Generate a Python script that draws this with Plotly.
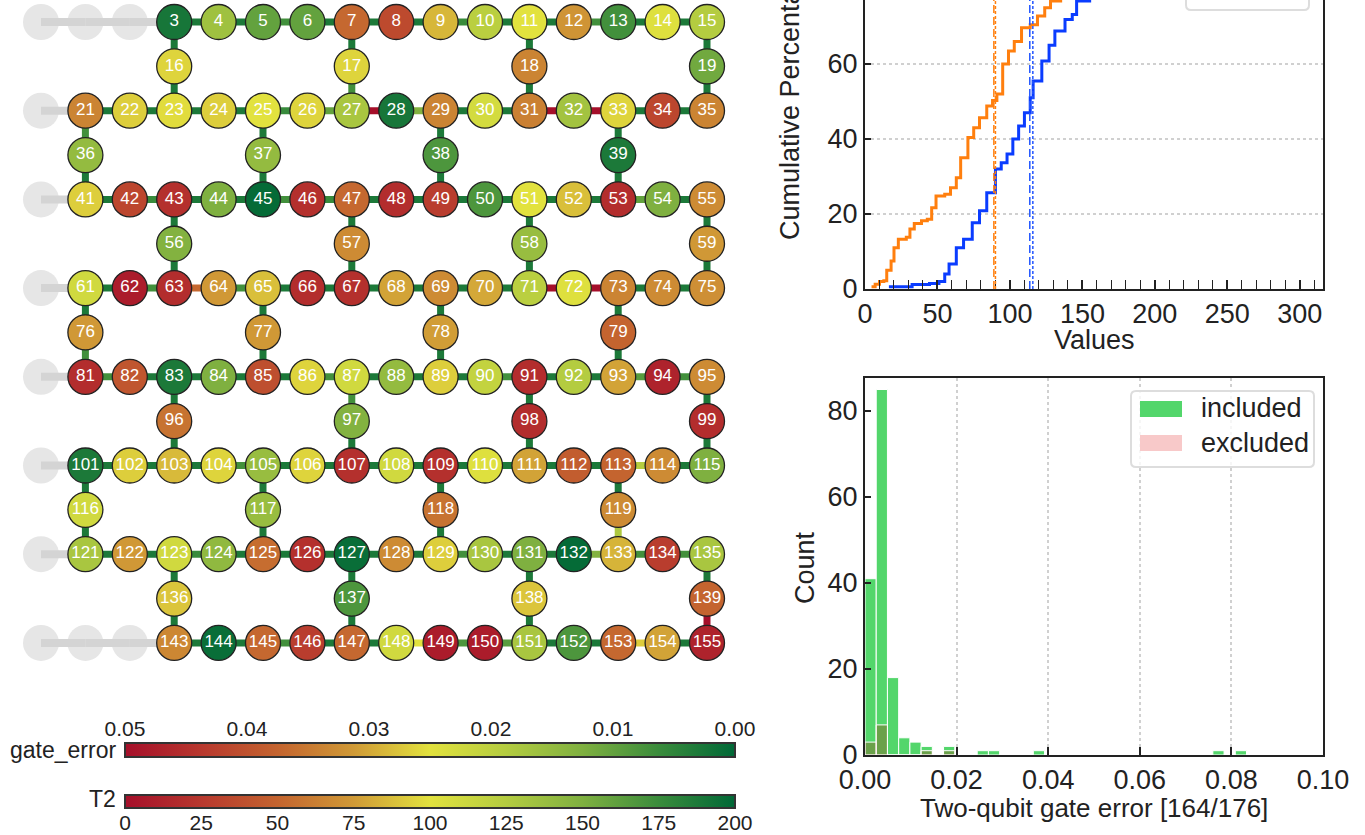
import plotly.graph_objects as go
from plotly.colors import sample_colorscale

W, H = 1365, 835
FONT = "Liberation Sans, Arial, sans-serif"

# ---------------- data ----------------
EXCLUDED = [0, 1, 2, 20, 40, 60, 80, 100, 120, 140, 141, 142]
# T2 per qubit (us), block by block (16 row qubits + 4 bridge qubits)
T2_BLOCK0 = [None, None, None, 190, 135, 160, 160, 52, 35, 85, 122, 100, 72, 172, 102, 125, 95, 95, 65, 155]
T2_BLOCK1 = [None, 65, 93, 98, 93, 100, 95, 130, 190, 65, 108, 63, 133, 95, 33, 65, 140, 140, 168, 188]
T2_BLOCK2 = [None, 93, 33, 20, 150, 198, 20, 52, 18, 28, 168, 100, 88, 18, 150, 68, 148, 68, 138, 74]
T2_BLOCK3 = [None, 110, 8, 18, 74, 88, 18, 20, 78, 68, 80, 122, 102, 65, 68, 70, 74, 74, 76, 50]
T2_BLOCK4 = [None, 18, 42, 188, 150, 38, 95, 110, 140, 93, 117, 18, 125, 78, 12, 68, 57, 148, 18, 18]
T2_BLOCK5 = [None, 188, 93, 86, 95, 138, 95, 20, 110, 20, 102, 78, 46, 50, 68, 150, 110, 138, 57, 68]
T2_BLOCK6 = [None, 130, 74, 110, 142, 54, 20, 196, 68, 93, 130, 150, 198, 84, 28, 130, 90, 168, 90, 50]
T2_BLOCK7 = [None, None, None, 66, 196, 52, 28, 52, 110, 8, 8, 130, 168, 52, 78, 12]
T2 = T2_BLOCK0 + T2_BLOCK1 + T2_BLOCK2 + T2_BLOCK3 + T2_BLOCK4 + T2_BLOCK5 + T2_BLOCK6 + T2_BLOCK7

# two-qubit gate errors: typical value plus the edges that differ
DEFAULT_ERR = 0.003
EDGE_ERR = {
    (5, 6): 0.007, (9, 10): 0.006, (12, 13): 0.007, (17, 27): 0.007,
    (25, 26): 0.006, (26, 27): 0.010, (27, 28): 0.080, (28, 29): 0.013,
    (31, 32): 0.120, (32, 33): 0.150, (21, 36): 0.007,
    (42, 43): 0.006, (45, 46): 0.007, (46, 47): 0.006, (53, 54): 0.010,
    (62, 63): 0.007, (63, 64): 0.037, (64, 65): 0.007, (71, 72): 0.200, (72, 73): 0.081,
    (76, 81): 0.007, (81, 82): 0.007, (86, 87): 0.007, (90, 91): 0.007,
    (93, 94): 0.009, (94, 95): 0.007, (87, 97): 0.007,
    (104, 105): 0.007, (113, 114): 0.019, (119, 133): 0.018,
    (123, 124): 0.006, (129, 130): 0.007, (132, 133): 0.013, (133, 134): 0.007,
    (134, 135): 0.007, (139, 155): 0.300,
    (145, 146): 0.007, (148, 149): 0.025, (149, 150): 0.008, (150, 151): 0.009,
    (153, 154): 0.027,
}

# cumulative distributions (values, cumulative %)
CDF_ORANGE_X = [4.5, 7, 10, 13, 15, 18, 20, 23, 28.5, 31, 34, 39, 43, 46, 49, 55, 59, 63, 66, 71, 75,
                79, 84, 88, 91, 95, 99, 103, 108, 114, 119, 124, 128, 135, 145, 160, 185, 230]
CDF_ORANGE_Y = [0.6, 1.3, 2, 2.2, 5, 7.5, 11, 13.3, 13.8, 16, 17.5, 18.2, 18.6, 21.7, 24.8, 25.3, 27,
                29.7, 35, 40.4, 43, 45.7, 48.8, 50.3, 52, 60, 63.5, 66, 69.7, 70.5, 72.8, 75, 76.8,
                82, 88, 93, 97, 100]
CDF_BLUE_X = [16.5, 32.5, 44.5, 51, 55, 58, 63, 68, 74, 79, 84, 90, 94, 98, 102, 106, 110, 114, 116,
              122, 127, 131, 138, 143, 146, 155, 170, 190, 240]
CDF_BLUE_Y = [0.6, 1.2, 1.5, 2, 4, 6.7, 11, 13.3, 17.7, 20.9, 25.7, 32, 33.7, 36, 40, 43.5, 47, 51,
              55.5, 60.8, 65, 68.8, 71.9, 73.2, 76.8, 84, 91, 96, 100]
ORANGE_MEAN, ORANGE_MEDIAN = 88.9, 90.0
BLUE_MEAN, BLUE_MEDIAN = 113.7, 115.8

# histogram of two-qubit gate error
HIST_BIN_W = 0.00245
HIST_INCLUDED = [41, 85, 18, 4, 3, 2, 0, 2, 0, 0, 1, 1, 0, 0, 0, 1, 0, 0, 0, 0,
                 0, 0, 0, 0, 0, 0, 0, 0, 0, 0, 0, 1, 0, 1]
HIST_EXCLUDED = [3, 7, 0, 0, 0, 1, 0, 1]

T2_TICKS = [0, 25, 50, 75, 100, 125, 150, 175, 200]
ERR_TICKS = [0.05, 0.04, 0.03, 0.02, 0.01, 0.00]
ERR_MAX = 0.05

# ---------------- styling ----------------
CS = [[0.0, '#a50f2a'], [0.125, '#b8382e'], [0.25, '#c4642f'], [0.375, '#d09a36'],
      [0.5, '#e2e23e'], [0.625, '#b4cc40'], [0.75, '#7fb040'], [0.875, '#3a8c3c'], [1.0, '#006837']]


def PX(x):
    return x / W


def PY(y):
    return 1 - y / H


# ---------------- heavy-hex geometry ----------------
def qpos(q):
    r, k = divmod(q, 20)
    if k < 16:
        return k, -2 * r
    cols = [3, 7, 11, 15] if r % 2 == 0 else [1, 5, 9, 13]
    return cols[k - 16], -(2 * r + 1)


edges = []
for r in range(8):
    for c in range(15):
        edges.append((20 * r + c, 20 * r + c + 1))
for r in range(7):
    cols = [3, 7, 11, 15] if r % 2 == 0 else [1, 5, 9, 13]
    for k, c in enumerate(cols):
        b = 20 * r + 16 + k
        edges.append((20 * r + c, b))
        edges.append((b, 20 * (r + 1) + c))

fig = go.Figure()

# excluded nodes
ex = [qpos(q) for q in EXCLUDED]
fig.add_trace(go.Scatter(x=[p[0] for p in ex], y=[p[1] for p in ex], mode='markers',
                         marker=dict(size=36, color='#e6e6e6', line=dict(width=0)),
                         hoverinfo='skip', xaxis='x', yaxis='y'))

mid_x, mid_y, mid_q = [], [], []
for a, b in edges:
    (x1, y1), (x2, y2) = qpos(a), qpos(b)
    if a in EXCLUDED or b in EXCLUDED:
        color, width = '#d4d4d4', 8
    else:
        e = EDGE_ERR.get((a, b), DEFAULT_ERR)
        quality = (ERR_MAX - min(e, ERR_MAX)) / ERR_MAX
        color = sample_colorscale(CS, [quality])[0]
        width = 7
        mid_x.append((x1 + x2) / 2)
        mid_y.append((y1 + y2) / 2)
        mid_q.append(ERR_MAX - min(e, ERR_MAX))
    fig.add_trace(go.Scatter(x=[x1, x2], y=[y1, y2], mode='lines',
                             line=dict(color=color, width=width),
                             hoverinfo='skip', xaxis='x', yaxis='y'))

CB_COMMON = dict(orientation='h', x=PX(430), xanchor='center', yanchor='top',
                 len=610, lenmode='pixels', thicknessmode='pixels', showticklabels=False,
                 xpad=0, ypad=0, outlinecolor='#333', outlinewidth=2, ticks='')

# gate error colorbar host (invisible markers at edge midpoints); labels come from axis x4
fig.add_trace(go.Scatter(
    x=mid_x, y=mid_y, mode='markers', hoverinfo='skip', xaxis='x', yaxis='y',
    marker=dict(size=0, opacity=0, color=mid_q, colorscale=CS, cmin=0, cmax=ERR_MAX,
                showscale=True, colorbar=dict(y=PY(743), thickness=14, **CB_COMMON))))

# qubit nodes; T2 colorbar labels come from axis x5
act = [q for q in range(len(T2)) if T2[q] is not None]
fig.add_trace(go.Scatter(
    x=[qpos(q)[0] for q in act], y=[qpos(q)[1] for q in act], mode='markers+text',
    text=[str(q) for q in act], textposition='middle center',
    textfont=dict(color='white', size=17, family=FONT),
    hoverinfo='skip', xaxis='x', yaxis='y',
    marker=dict(size=35, color=[T2[q] for q in act], colorscale=CS, cmin=0, cmax=200,
                line=dict(color='#222', width=1.3), showscale=True,
                colorbar=dict(y=PY(795), thickness=13, **CB_COMMON))))

# invisible traces that carry the colorbar tick axes
fig.add_trace(go.Scatter(x=[ERR_TICKS[0], ERR_TICKS[-1]], y=[0, 0], mode='markers',
                         marker=dict(size=0, opacity=0), hoverinfo='skip', xaxis='x4', yaxis='y4'))
fig.add_trace(go.Scatter(x=[T2_TICKS[0], T2_TICKS[-1]], y=[0, 0], mode='markers',
                         marker=dict(size=0, opacity=0), hoverinfo='skip', xaxis='x5', yaxis='y5'))

# ---------------- CDF panel ----------------
fig.add_trace(go.Scatter(x=CDF_ORANGE_X, y=CDF_ORANGE_Y, mode='lines', line_shape='hv',
                         line=dict(color='#ff7f0e', width=3), name='T2', xaxis='x2', yaxis='y2'))
fig.add_trace(go.Scatter(x=CDF_BLUE_X, y=CDF_BLUE_Y, mode='lines', line_shape='hv',
                         line=dict(color='#0a3cff', width=3), name='T1', xaxis='x2', yaxis='y2'))
for v, col, dash in [(ORANGE_MEAN, '#ff7f0e', '8px,4px'), (ORANGE_MEDIAN, '#ff7f0e', '3px,2px'),
                     (BLUE_MEAN, '#2255ff', '8px,4px'), (BLUE_MEDIAN, '#2255ff', '3px,2px')]:
    fig.add_shape(type='line', xref='x2', yref='y2 domain', x0=v, x1=v, y0=0, y1=1,
                  line=dict(color=col, width=1.5, dash=dash))

# ---------------- histogram panel ----------------
fig.add_trace(go.Bar(x=[(i + 0.5) * HIST_BIN_W for i in range(len(HIST_INCLUDED))], y=HIST_INCLUDED,
                     width=HIST_BIN_W, marker=dict(color='#53d66b', line=dict(color='white', width=1)),
                     name='included', xaxis='x3', yaxis='y3'))
fig.add_trace(go.Bar(x=[(i + 0.5) * HIST_BIN_W for i in range(len(HIST_EXCLUDED))], y=HIST_EXCLUDED,
                     width=HIST_BIN_W, marker=dict(color='rgba(160,40,0,0.3)', line=dict(color='white', width=1)),
                     name='excluded', xaxis='x3', yaxis='y3'))

TICKFONT = dict(size=27, color='#222', family=FONT)
CBFONT = dict(size=21, color='#222', family=FONT)
axis_common = dict(showline=True, linecolor='#222', linewidth=2, zeroline=False,
                   tickfont=TICKFONT, ticks='inside', tickcolor='#222', tickwidth=1.5)

fig.update_layout(
    width=W, height=H, margin=dict(l=0, r=0, t=0, b=0, autoexpand=False),
    paper_bgcolor='white', plot_bgcolor='white', showlegend=False, barmode='overlay',
    font=dict(family=FONT, color='#222'),
    xaxis=dict(domain=[0, PX(760)], range=[-41 / 44.4, -41 / 44.4 + 760 / 44.4], visible=False),
    yaxis=dict(domain=[PY(700), 1], range=[-678 / 44.35, 22 / 44.35], visible=False),
    xaxis2=dict(domain=[PX(865), PX(1323)], anchor='y2', range=[0, 316],
                tickvals=[0, 50, 100, 150, 200, 250, 300], ticklen=9, showgrid=False,
                minor=dict(dtick=10, ticks='inside', ticklen=9, tickcolor='#222', tickwidth=1.2, showgrid=False),
                **axis_common),
    yaxis2=dict(domain=[PY(289), 1], anchor='x2', range=[0, 289 / 3.75],
                tickvals=[0, 20, 40, 60], ticklen=6, mirror=True,
                showgrid=True, gridcolor='#d0d0d0', griddash='dot', gridwidth=1.5, **axis_common),
    xaxis3=dict(domain=[PX(865), PX(1323)], anchor='y3', range=[0, 0.1],
                tickvals=[0, 0.02, 0.04, 0.06, 0.08, 0.1], tickformat='.2f', ticklen=8, mirror=True,
                showgrid=True, gridcolor='#d0d0d0', griddash='dot', gridwidth=1.5, **axis_common),
    yaxis3=dict(domain=[PY(755), PY(378)], anchor='x3', range=[0, 377 / 4.3],
                tickvals=[0, 20, 40, 60, 80], ticklen=6, mirror=True, showgrid=False, **axis_common),
    xaxis4=dict(domain=[PX(125), PX(735)], anchor='y4', side='top', range=[ERR_TICKS[0], ERR_TICKS[-1]],
                tickvals=ERR_TICKS, tickformat='.2f', showgrid=False, zeroline=False, showline=False,
                ticks='', tickfont=CBFONT, fixedrange=True),
    yaxis4=dict(domain=[PY(743), PY(741)], anchor='x4', visible=False, fixedrange=True),
    xaxis5=dict(domain=[PX(125), PX(735)], anchor='y5', side='bottom', range=[T2_TICKS[0], T2_TICKS[-1]],
                tickvals=T2_TICKS, showgrid=False, zeroline=False, showline=False,
                ticks='', tickfont=CBFONT, fixedrange=True),
    yaxis5=dict(domain=[PY(808), PY(806)], anchor='x5', visible=False, fixedrange=True),
)

ann = [
    dict(text='gate_error', x=PX(118), y=PY(750), xanchor='right', yanchor='middle', font=dict(size=23)),
    dict(text='T2', x=PX(118), y=PY(799), xanchor='right', yanchor='middle', font=dict(size=23)),
    dict(text='Values', x=PX(1094), y=PY(340), xanchor='center', yanchor='middle', font=dict(size=27)),
    dict(text='Cumulative Percentage', x=PX(790), y=PY(100), textangle=-90, xanchor='center',
         yanchor='middle', font=dict(size=27)),
    dict(text='Count', x=PX(805), y=PY(568), textangle=-90, xanchor='center', yanchor='middle',
         font=dict(size=27)),
    dict(text='Two-qubit gate error [164/176]', x=PX(1094), y=PY(808), xanchor='center',
         yanchor='middle', font=dict(size=26)),
    dict(text='included', x=PX(1199), y=PY(408), xanchor='left', yanchor='middle', font=dict(size=27)),
    dict(text='excluded', x=PX(1199), y=PY(443), xanchor='left', yanchor='middle', font=dict(size=27)),
]
for a in ann:
    a.update(xref='paper', yref='paper', showarrow=False)
    a['font'].update(family=FONT, color='#222')
fig.update_layout(annotations=ann)


def rounded_box(x0, y0, x1, y1, r=5):
    rx, ry = r / W, r / H
    X0, X1, Y0, Y1 = PX(x0), PX(x1), PY(y1), PY(y0)
    return (f"M {X0+rx},{Y0} L {X1-rx},{Y0} Q {X1},{Y0} {X1},{Y0+ry} L {X1},{Y1-ry} "
            f"Q {X1},{Y1} {X1-rx},{Y1} L {X0+rx},{Y1} Q {X0},{Y1} {X0},{Y1-ry} L {X0},{Y0+ry} "
            f"Q {X0},{Y0} {X0+rx},{Y0} Z")


# legend frames and patches
fig.add_shape(type='path', xref='paper', yref='paper', path=rounded_box(1186, -30, 1309, 10),
              line=dict(color='#dddddd', width=2), fillcolor='rgba(255,255,255,0.8)')
fig.add_shape(type='path', xref='paper', yref='paper', path=rounded_box(1131, 391, 1314, 467),
              line=dict(color='#dddddd', width=2), fillcolor='rgba(255,255,255,0.8)')
fig.add_shape(type='rect', xref='paper', yref='paper', x0=PX(1140), x1=PX(1182), y0=PY(417), y1=PY(401),
              line=dict(width=0), fillcolor='#53d66b')
fig.add_shape(type='rect', xref='paper', yref='paper', x0=PX(1140), x1=PX(1182), y0=PY(451), y1=PY(435),
              line=dict(width=0), fillcolor='#f8c9c9')

fig.write_html("out.html")
